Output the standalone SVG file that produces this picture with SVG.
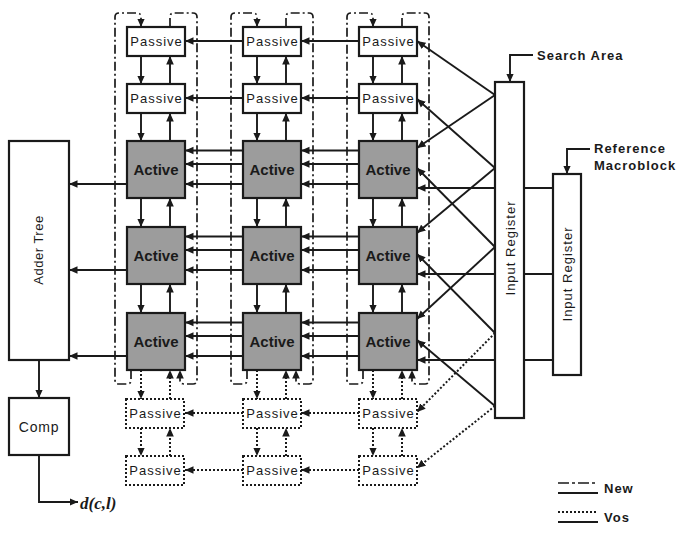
<svg xmlns="http://www.w3.org/2000/svg" width="680" height="541" viewBox="0 0 680 541">
<style>
.box{fill:#fff;stroke:#1a1a1a;stroke-width:2.2}
.act{fill:#9c9c9c;stroke:#1a1a1a;stroke-width:2.2}
.dbox{fill:#fff;stroke:#1a1a1a;stroke-width:2;stroke-dasharray:2 2}
.ln{fill:none;stroke:#1a1a1a;stroke-width:1.9}
.ar{fill:none;stroke:#1a1a1a;stroke-width:1.9;marker-end:url(#ah)}
.dar{fill:none;stroke:#1a1a1a;stroke-width:2;stroke-dasharray:2 2;marker-end:url(#ah)}
.dd{fill:none;stroke:#1a1a1a;stroke-width:1.7;stroke-dasharray:9 3 2 3;marker-end:url(#ah)}
.t{font-family:"Liberation Sans",Arial,sans-serif;fill:#1a1a1a}
.pt{font-size:13px;letter-spacing:1px;text-anchor:middle}
.at{font-size:15px;font-weight:bold;text-anchor:middle}
.bt{font-size:13px;font-weight:bold;letter-spacing:1px}
</style>
<defs>
<marker id="ah" viewBox="0 0 10 10" refX="10" refY="5" markerWidth="8.5" markerHeight="8.5" markerUnits="userSpaceOnUse" orient="auto"><path d="M0,0.5 L10,5 L0,9.5 z" fill="#1a1a1a"/></marker>
</defs>

<g id="connectors">
<!-- vertical solid arrows, column 1 -->
<path class="ar" d="M141,56V84"/><path class="ar" d="M141,113V141"/><path class="ar" d="M141,198V227"/><path class="ar" d="M141,284V313"/>
<path class="ar" d="M170,84V56"/><path class="ar" d="M170,141V113"/><path class="ar" d="M170,227V198"/><path class="ar" d="M170,313V284"/>
<!-- column 2 -->
<path class="ar" d="M257,56V84"/><path class="ar" d="M257,113V141"/><path class="ar" d="M257,198V227"/><path class="ar" d="M257,284V313"/>
<path class="ar" d="M286,84V56"/><path class="ar" d="M286,141V113"/><path class="ar" d="M286,227V198"/><path class="ar" d="M286,313V284"/>
<!-- column 3 -->
<path class="ar" d="M373,56V84"/><path class="ar" d="M373,113V141"/><path class="ar" d="M373,198V227"/><path class="ar" d="M373,284V313"/>
<path class="ar" d="M402,84V56"/><path class="ar" d="M402,141V113"/><path class="ar" d="M402,227V198"/><path class="ar" d="M402,313V284"/>
<!-- vertical dotted arrows -->
<path class="dar" d="M141,370V399"/><path class="dar" d="M141,428V456"/><path class="dar" d="M170,399V370"/><path class="dar" d="M170,456V428"/>
<path class="dar" d="M257,370V399"/><path class="dar" d="M257,428V456"/><path class="dar" d="M286,399V370"/><path class="dar" d="M286,456V428"/>
<path class="dar" d="M373,370V399"/><path class="dar" d="M373,428V456"/><path class="dar" d="M402,399V370"/><path class="dar" d="M402,456V428"/>
<!-- passive rows -->
<path class="ar" d="M359,41H301"/><path class="ar" d="M243,41H185"/><path class="ar" d="M359,98H301"/><path class="ar" d="M243,98H185"/>
<path class="dar" d="M359,413H301"/><path class="dar" d="M243,413H185"/><path class="dar" d="M359,470H301"/><path class="dar" d="M243,470H185"/>
<!-- active row 1 -->
<path class="ar" d="M359,150.5H301"/><path class="ar" d="M243,150.5H185"/><path class="ar" d="M359,164H301"/><path class="ar" d="M243,164H185"/><path class="ar" d="M359,184H301"/><path class="ar" d="M243,184H185"/>
<!-- active row 2 -->
<path class="ar" d="M359,236.5H301"/><path class="ar" d="M243,236.5H185"/><path class="ar" d="M359,250H301"/><path class="ar" d="M243,250H185"/><path class="ar" d="M359,270H301"/><path class="ar" d="M243,270H185"/>
<!-- active row 3 -->
<path class="ar" d="M359,322.5H301"/><path class="ar" d="M243,322.5H185"/><path class="ar" d="M359,336H301"/><path class="ar" d="M243,336H185"/><path class="ar" d="M359,356H301"/><path class="ar" d="M243,356H185"/>
<!-- to adder tree -->
<path class="ar" d="M127,184H69"/><path class="ar" d="M127,270H69"/><path class="ar" d="M127,356H69"/>
<!-- input register horizontals -->
<path class="ar" d="M495,188H417"/><path class="ar" d="M495,274H417"/><path class="ar" d="M495,360H417"/>
<path class="ln" d="M524,188H553M524,274H553M524,360H553"/>
<!-- diagonals -->
<path class="ar" d="M495,95L417,41"/><path class="ar" d="M495,95L417,148"/>
<path class="ar" d="M495,168L417,99"/><path class="ar" d="M495,168L417,233"/>
<path class="ar" d="M495,247L417,168"/><path class="ar" d="M495,247L417,319"/>
<path class="ar" d="M495,333L417,254"/><path class="dar" d="M495,333L417,412"/>
<path class="ar" d="M495,406L417,340"/><path class="dar" d="M495,406L417,468"/>
<!-- dash-dot loops -->
<path class="dd" d="M131,370V380Q131,384 127,384H119Q115,384 115,380V17Q115,13 119,13H137Q141,13 141,17V27"/>
<path class="dd" d="M170,27V17Q170,13 174,13H193Q197,13 197,17V380Q197,384 193,384H184Q180,384 180,380V370"/>
<path class="dd" d="M247,370V380Q247,384 243,384H235Q231,384 231,380V17Q231,13 235,13H253Q257,13 257,17V27"/>
<path class="dd" d="M286,27V17Q286,13 290,13H309Q313,13 313,17V380Q313,384 309,384H300Q296,384 296,380V370"/>
<path class="dd" d="M363,370V380Q363,384 359,384H351Q347,384 347,380V17Q347,13 351,13H369Q373,13 373,17V27"/>
<path class="dd" d="M402,27V17Q402,13 406,13H425Q429,13 429,17V380Q429,384 425,384H416Q412,384 412,380V370"/>
<!-- external inputs -->
<path class="ar" d="M533,55H510V82"/>
<path class="ar" d="M590,149H567V174"/>
<!-- adder / comp -->
<path class="ar" d="M39,360V398"/>
<path class="ar" d="M39,455V502H78"/>
</g>

<g id="passive-r1"><rect class="box" x="127" y="27" width="58" height="29"/><text class="t pt" x="156.5" y="46">Passive</text>
<rect class="box" x="243" y="27" width="58" height="29"/><text class="t pt" x="272.5" y="46">Passive</text>
<rect class="box" x="359" y="27" width="58" height="29"/><text class="t pt" x="388.5" y="46">Passive</text></g>
<g id="passive-r2"><rect class="box" x="127" y="84" width="58" height="29"/><text class="t pt" x="156.5" y="103">Passive</text>
<rect class="box" x="243" y="84" width="58" height="29"/><text class="t pt" x="272.5" y="103">Passive</text>
<rect class="box" x="359" y="84" width="58" height="29"/><text class="t pt" x="388.5" y="103">Passive</text></g>
<g id="active-r1"><rect class="act" x="127" y="141" width="58" height="57"/><text class="t at" x="156" y="175">Active</text>
<rect class="act" x="243" y="141" width="58" height="57"/><text class="t at" x="272" y="175">Active</text>
<rect class="act" x="359" y="141" width="58" height="57"/><text class="t at" x="388" y="175">Active</text></g>
<g id="active-r2"><rect class="act" x="127" y="227" width="58" height="57"/><text class="t at" x="156" y="261">Active</text>
<rect class="act" x="243" y="227" width="58" height="57"/><text class="t at" x="272" y="261">Active</text>
<rect class="act" x="359" y="227" width="58" height="57"/><text class="t at" x="388" y="261">Active</text></g>
<g id="active-r3"><rect class="act" x="127" y="313" width="58" height="57"/><text class="t at" x="156" y="347">Active</text>
<rect class="act" x="243" y="313" width="58" height="57"/><text class="t at" x="272" y="347">Active</text>
<rect class="act" x="359" y="313" width="58" height="57"/><text class="t at" x="388" y="347">Active</text></g>
<g id="passive-r3"><rect class="dbox" x="126" y="399" width="58" height="29"/><text class="t pt" x="155.5" y="418">Passive</text>
<rect class="dbox" x="243" y="399" width="58" height="29"/><text class="t pt" x="272.5" y="418">Passive</text>
<rect class="dbox" x="359" y="399" width="58" height="29"/><text class="t pt" x="388.5" y="418">Passive</text></g>
<g id="passive-r4"><rect class="dbox" x="126" y="456" width="58" height="29"/><text class="t pt" x="155.5" y="475">Passive</text>
<rect class="dbox" x="243" y="456" width="58" height="29"/><text class="t pt" x="272.5" y="475">Passive</text>
<rect class="dbox" x="359" y="456" width="58" height="29"/><text class="t pt" x="388.5" y="475">Passive</text></g>

<g id="adder-tree"><rect class="box" x="9" y="141" width="60" height="219"/><text class="t" font-size="13" letter-spacing="0.5" text-anchor="middle" transform="translate(43,250) rotate(-90)">Adder Tree</text></g>
<g id="comp"><rect class="box" x="9" y="398" width="60" height="57"/><text class="t" font-size="14" letter-spacing="0.8" text-anchor="middle" x="39" y="432">Comp</text></g>
<g id="output"><text x="80" y="509" font-family="'Liberation Serif','Times New Roman',serif" font-style="italic" font-weight="bold" font-size="17" fill="#1a1a1a">d(c,l)</text></g>

<g id="input-register-sa"><rect class="box" x="495" y="82" width="29" height="336"/><text class="t" font-size="13" letter-spacing="1" text-anchor="middle" transform="translate(514.5,248) rotate(-90)">Input Register</text></g>
<g id="input-register-ref"><rect class="box" x="553" y="174" width="28" height="201"/><text class="t" font-size="13" letter-spacing="1" text-anchor="middle" transform="translate(572,274) rotate(-90)">Input Register</text></g>
<g id="search-area"><text class="t bt" x="537" y="60">Search Area</text></g>
<g id="reference-mb"><text class="t bt" x="594" y="153">Reference</text><text class="t bt" x="594" y="170">Macroblock</text></g>

<g id="legend">
<path d="M558,483H598" fill="none" stroke="#1a1a1a" stroke-width="1.7" stroke-dasharray="11 3 3 3"/>
<path d="M558,493H598" fill="none" stroke="#1a1a1a" stroke-width="2"/>
<path d="M558,512H598" fill="none" stroke="#1a1a1a" stroke-width="2" stroke-dasharray="2 2"/>
<path d="M558,522H598" fill="none" stroke="#1a1a1a" stroke-width="2"/>
<text class="t bt" x="604" y="493">New</text>
<text class="t bt" x="604" y="522">Vos</text>
</g>
</svg>
